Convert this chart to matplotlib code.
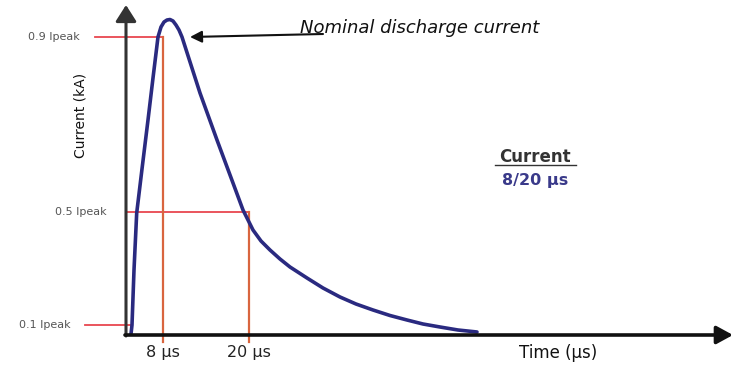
import matplotlib
matplotlib.use("Agg")
import matplotlib.pyplot as plt

# Schematic 8/20 us current impulse (drawing units, origin at axis crossing)
time_pts = [5, 6, 8, 10.7, 16, 22, 27, 32, 35, 38, 41, 44, 47, 50, 53, 56,
            74, 91, 107, 117, 122, 127, 135, 144, 154, 164, 181, 197, 214, 230,
            247, 264, 281, 297, 314, 332, 351]
current_pts = [1, 10, 65, 122, 166, 215, 257, 298, 308, 313, 315, 315.5, 314, 310, 305, 298,
               242, 195, 152, 125, 115, 105, 94, 85, 76, 68, 57, 47, 38, 31,
               25, 19.5, 15, 11, 8, 5, 3]

# Reference levels
level_labels = ["0.9 Ipeak", "0.5 Ipeak", "0.1 Ipeak"]
level_y = [298, 123, 10]
level_x_start = [-31, 1, -41]
level_x_end = [37, 123, 5]
level_label_x = [-72, -45, -81]

# Time markers
tick_labels = ["8 µs", "20 µs"]
tick_x = [37, 123]
tick_top = [298, 123]

fig = plt.figure(figsize=(7.38, 3.65), dpi=100)
ax = fig.add_axes([0, 0, 1, 1])
ax.set_xlim(-126, 612)
ax.set_ylim(-30, 335)
ax.axis("off")

red_h = "#e8474f"
red_v = "#d9653f"

# horizontal reference lines
for lab, y, xs, xe, lx in zip(level_labels, level_y, level_x_start, level_x_end, level_label_x):
    ax.plot([xs, xe], [y, y], color=red_h, lw=1.3, zorder=2)
    ax.text(lx, y, lab, fontsize=8, color="#555555", ha="center", va="center")

# vertical time markers
for lab, x, top in zip(tick_labels, tick_x, tick_top):
    ax.plot([x, x], [-7, top], color=red_v, lw=1.6, zorder=2)
    ax.text(x, -18, lab, fontsize=11.5, color="#222222", ha="center", va="center")

# curve
ax.plot(time_pts, current_pts, color="#2a2a80", lw=2.6, solid_joinstyle="round",
        solid_capstyle="round", zorder=3)

# axes arrows
ax.annotate("", xy=(0, 330), xytext=(0, -1),
            arrowprops=dict(arrowstyle="-|>,head_length=0.55,head_width=0.35",
                            mutation_scale=18, color="#333333", lw=2.2,
                            shrinkA=0, shrinkB=0), zorder=4)
ax.annotate("", xy=(607, 0), xytext=(-1, 0),
            arrowprops=dict(arrowstyle="-|>,head_length=0.55,head_width=0.3",
                            mutation_scale=18, color="#111111", lw=2.6,
                            shrinkA=0, shrinkB=0), zorder=4)

# axis titles
ax.text(-46, 220, "Current (kA)", rotation=90, fontsize=10, color="#111111",
        ha="center", va="center")
ax.text(432, -18, "Time (µs)", fontsize=12, color="#111111", ha="center", va="center")

# annotation
ax.annotate("", xy=(64, 298), xytext=(197, 301),
            arrowprops=dict(arrowstyle="-|>,head_length=0.5,head_width=0.25",
                            mutation_scale=14, color="#111111", lw=1.5,
                            shrinkA=0, shrinkB=0))
ax.text(174, 307, "Nominal discharge current", fontsize=13, style="italic",
        color="#111111", ha="left", va="center")

# legend-like text
ax.text(409, 178, "Current", fontsize=12, fontweight="bold", color="#333333",
        ha="center", va="center")
ax.plot([369, 450], [170, 170], color="#333333", lw=1)
ax.text(409, 154, "8/20 µs", fontsize=11.5, fontweight="bold", color="#3a3a8a",
        ha="center", va="center")

fig.savefig("out.png", dpi=100)
